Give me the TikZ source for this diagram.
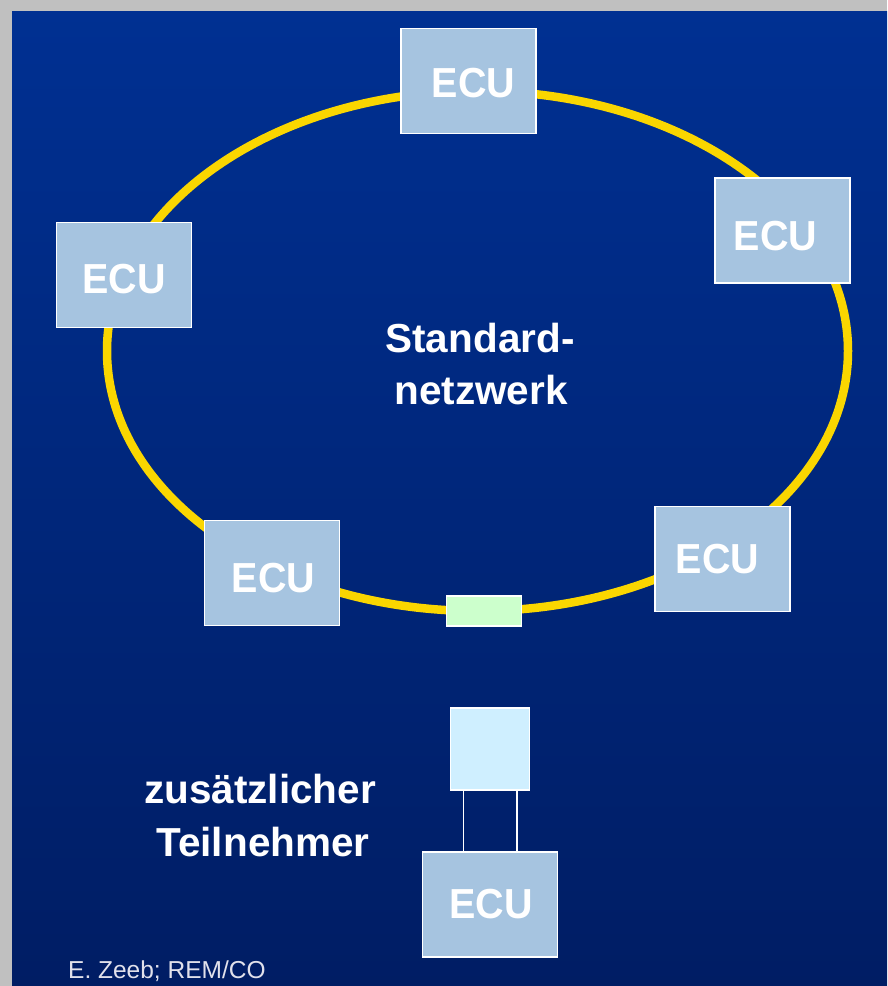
\documentclass[tikz,border=0pt]{standalone}
\usepackage{fontspec}
\setmainfont{Liberation Sans}
\usetikzlibrary{calc}
\definecolor{bgtop}{RGB}{0,48,146}
\definecolor{bgbot}{RGB}{0,29,100}
\definecolor{frame}{RGB}{192,192,192}
\definecolor{ring}{RGB}{250,214,0}
\definecolor{ecufill}{RGB}{166,196,224}
\definecolor{tapfill}{RGB}{204,255,204}
\definecolor{newfill}{RGB}{207,239,255}
\tikzset{
  ecubox/.style={draw=white, line width=1.2pt, fill=ecufill, minimum width=135pt, minimum height=105pt, inner sep=0pt},
  ecutext/.style={text=white, inner sep=0pt, font=\fontsize{42}{50}\selectfont\bfseries},
  tapbox/.style={draw=white, line width=1.2pt, fill=tapfill, minimum width=75pt, minimum height=30pt, inner sep=0pt},
  newbox/.style={draw=white, line width=1.2pt, fill=newfill, minimum width=79pt, minimum height=82pt, inner sep=0pt},
  label/.style={text=white, inner sep=0pt, anchor=base, font=\fontsize{40.5}{52}\selectfont\bfseries},
  wire/.style={draw=white, line width=1.2pt}
}
\newcommand{\ecuword}{\scalebox{0.94}[1]{ECU}}
\begin{document}
\begin{tikzpicture}[x=1pt,y=-1pt]
\useasboundingbox (0,0) rectangle (887,986);
\fill[frame] (0,0) rectangle (887,986);
\shade[top color=bgtop, bottom color=bgbot] (12,11) rectangle (887,986);
% ring
\draw[ring, line width=8.5pt] (477.5,351) ellipse [x radius=370.5, y radius=260];
% ECUs
\node[ecubox] (e1) at (468.5,81) {};
\node[ecutext] (t1) at ($(e1.center)+(5,2)$) {\ecuword};
\node[ecubox] (e2) at (782.5,230.5) {};
\node[ecutext] (t2) at ($(e2.center)+(-7,6)$) {\ecuword};
\node[ecubox] (e3) at (124,275) {};
\node[ecutext] (t3) at ($(e3.center)+(0,4)$) {\ecuword};
\node[ecubox] (e4) at (272,573) {};
\node[ecutext] (t4) at ($(e4.center)+(1.5,5)$) {\ecuword};
\node[ecubox] (e5) at (722.5,559) {};
\node[ecutext] (t5) at ($(e5.center)+(-5,0)$) {\ecuword};
\node[tapbox] (tap) at (484.3,611) {};
% new participant
\node[newbox] (nb) at (490.3,749) {};
\node[ecubox] (e6) at (490.3,904.5) {};
\node[ecutext] (t6) at ($(e6.center)+(1,0)$) {\ecuword};
\draw[wire] ([xshift=-27pt]nb.south) -- ([xshift=-27pt]nb.south |- e6.north);
\draw[wire] ([xshift=26.7pt]nb.south) -- ([xshift=26.7pt]nb.south |- e6.north);
% labels
\node[label] (s1) at (480,352) {Standard-};
\node[label] (s2) at (481,404) {netzwerk};
\node[label] (z1) at (260,803) {zusätzlicher};
\node[label] (z2) at (263,856.7) {Teilnehmer};
\node[text={rgb,255:red,225;green,225;blue,235}, inner sep=0pt, anchor=base west, font=\fontsize{24.5}{28}\selectfont] (auth) at (68,978) {E. Zeeb; REM/CO};
\end{tikzpicture}
\end{document}
